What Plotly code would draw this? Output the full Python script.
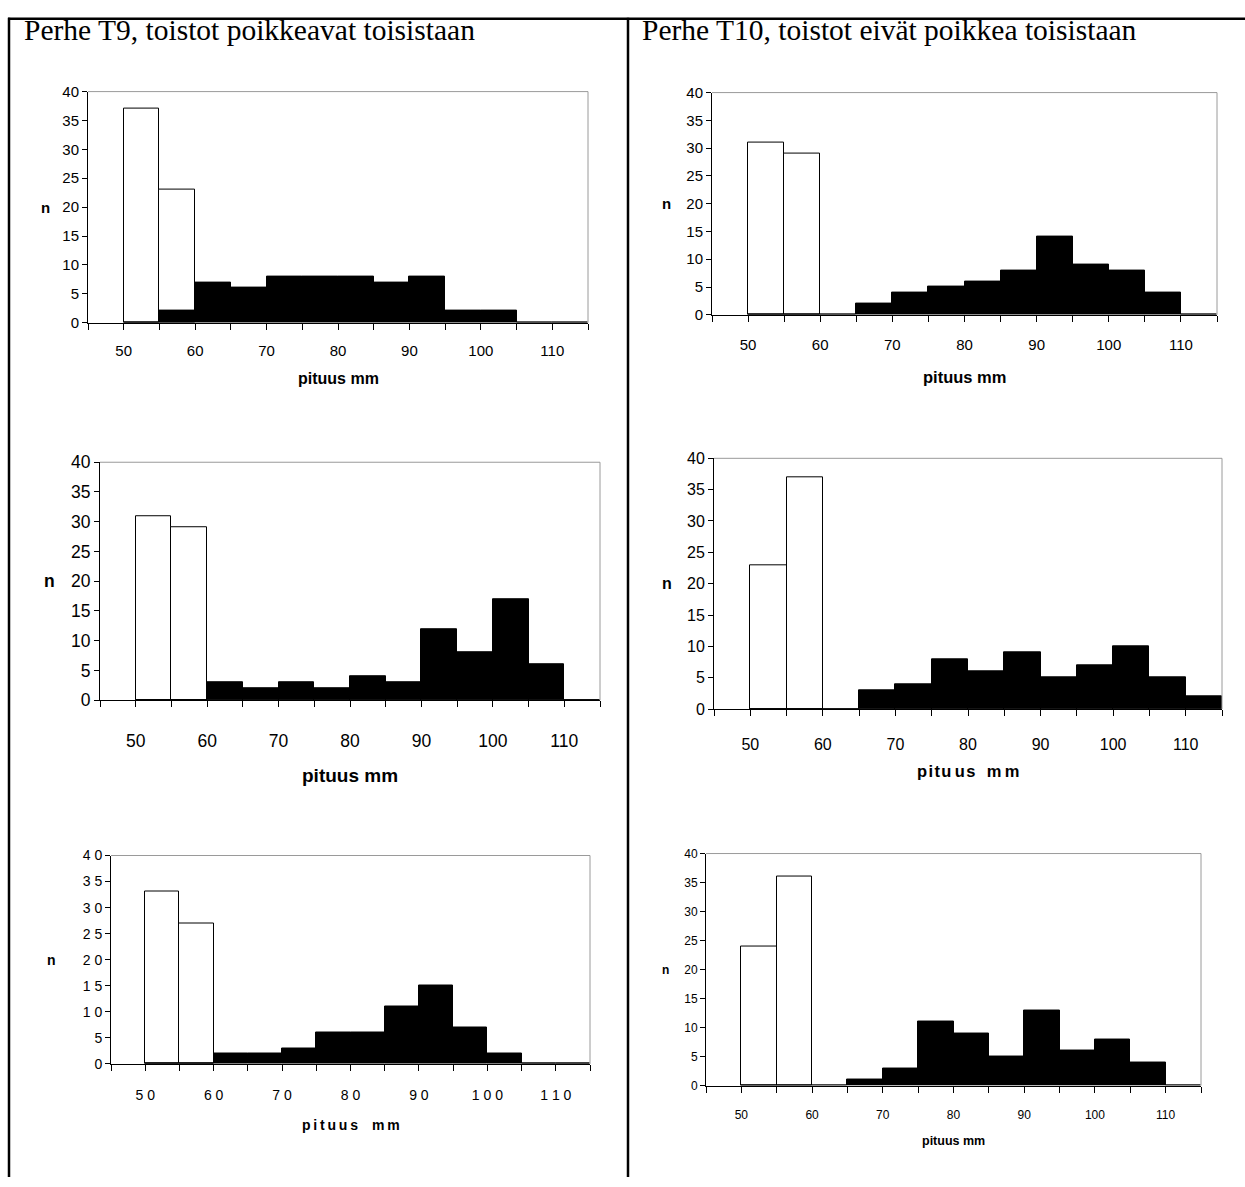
import plotly.graph_objects as go

# ---------------- data ----------------
bin_starts = [50, 55, 60, 65, 70, 75, 80, 85, 90, 95, 100, 105, 110]   # length classes (mm), width 5
white_bins = [50, 55]
x_tick_vals = [45, 50, 55, 60, 65, 70, 75, 80, 85, 90, 95, 100, 105, 110, 115]
x_tick_text = ["", "50", "", "60", "", "70", "", "80", "", "90", "", "100", "", "110", ""]
y_tick_vals = [0, 5, 10, 15, 20, 25, 30, 35, 40]

t9_r1_white = [37, 23]
t9_r1_black = [0, 2, 7, 6, 8, 8, 8, 7, 8, 2, 2, 0, 0]
t10_r1_white = [31, 29]
t10_r1_black = [0, 0, 0, 2, 4, 5, 6, 8, 14, 9, 8, 4, 0]
t9_r2_white = [31, 29]
t9_r2_black = [0, 0, 3, 2, 3, 2, 4, 3, 12, 8, 17, 6, 0]
t10_r2_white = [23, 37]
t10_r2_black = [0, 0, 0, 3, 4, 8, 6, 9, 5, 7, 10, 5, 2]
t9_r3_white = [33, 27]
t9_r3_black = [0, 0, 2, 2, 3, 6, 6, 11, 15, 7, 2, 0, 0]
t10_r3_white = [24, 36]
t10_r3_black = [0, 0, 0, 1, 3, 11, 9, 5, 13, 6, 8, 4, 0]

header_left = "Perhe T9, toistot poikkeavat toisistaan"
header_right = "Perhe T10, toistot eivät poikkea toisistaan"
x_title = "pituus mm"
y_title = "n"

# ---------------- layout (pixels) ----------------
W, H = 1245, 1187
FONT = "Liberation Sans, Arial, sans-serif"

panels = [
    dict(white=t9_r1_white, black=t9_r1_black, box=(88, 588, 83, 318), fs=15, tfs=16, lab_y=343, tit_y=375, n_x=45, style="plain"),
    dict(white=t10_r1_white, black=t10_r1_black, box=(712, 1217, 84, 310), fs=15, tfs=16.5, lab_y=337, tit_y=373, n_x=666, style="plain"),
    dict(white=t9_r2_white, black=t9_r2_black, box=(100, 600, 460, 702), fs=17.5, tfs=19, lab_y=739, tit_y=779, n_x=49, style="plain"),
    dict(white=t10_r2_white, black=t10_r2_black, box=(714, 1222, 456, 711), fs=16, tfs=16.5, lab_y=743, tit_y=774, n_x=667, style="title_spaced"),
    dict(white=t9_r3_white, black=t9_r3_black, box=(111, 590, 860, 1072), fs=14, tfs=14, lab_y=1100, tit_y=1134, n_x=51, style="spaced"),
    dict(white=t10_r3_white, black=t10_r3_black, box=(706, 1201, 858, 1094), fs=12, tfs=12.5, lab_y=1121, tit_y=1150, n_x=665, style="plain"),
]


def space_out(s, sep):
    return sep.join(list(s)) if s else s


fig = go.Figure()
shapes = []
annotations = []

for i, p in enumerate(panels, start=1):
    xa = "x" if i == 1 else f"x{i}"
    ya = "y" if i == 1 else f"y{i}"
    left, right, top, bottom = p["box"]
    dom_x = [left / W, right / W]
    dom_y = [1 - bottom / H, 1 - top / H]

    fig.add_trace(go.Bar(
        x=white_bins, y=p["white"], width=5, offset=0,
        marker=dict(color="white", line=dict(color="black", width=1)),
        xaxis=xa, yaxis=ya, showlegend=False, hoverinfo="skip"))
    fig.add_trace(go.Bar(
        x=bin_starts, y=p["black"], width=5, offset=0,
        marker=dict(color="black", line=dict(color="black", width=1)),
        xaxis=xa, yaxis=ya, showlegend=False, hoverinfo="skip"))

    if p["style"] == "spaced":
        xt = [space_out(t, " ") for t in x_tick_text]
        yt = [space_out(str(v), " ") for v in y_tick_vals]
        title_txt = "p\u2009i\u2009t\u2009u\u2009u\u2009s\u2002\u2002m\u2009m"
    elif p["style"] == "title_spaced":
        xt = x_tick_text
        yt = [str(v) for v in y_tick_vals]
        title_txt = "p\u200ai\u200at\u200au\u2009u\u200as\u2002\u2009m\u2009m"
    else:
        xt = x_tick_text
        yt = [str(v) for v in y_tick_vals]
        title_txt = x_title

    fs = p["fs"]
    ticklen = 6
    standoff = int(round(max(0, (p["lab_y"] - bottom) - ticklen - fs * 0.5 - 3)))

    key_x = "xaxis" if i == 1 else f"xaxis{i}"
    key_y = "yaxis" if i == 1 else f"yaxis{i}"
    fig.update_layout(**{
        key_x: dict(domain=dom_x, anchor=ya, range=[45, 115], tickmode="array",
                    tickvals=x_tick_vals, ticktext=xt, ticks="outside", ticklen=ticklen,
                    tickcolor="black", tickwidth=1, showline=True, linecolor="black",
                    linewidth=1, showgrid=False, zeroline=False,
                    ticklabelstandoff=standoff,
                    tickfont=dict(family=FONT, size=fs, color="black")),
        key_y: dict(domain=dom_y, anchor=xa, range=[0, 40], tickmode="array",
                    tickvals=y_tick_vals, ticktext=yt, ticks="outside", ticklen=5,
                    tickcolor="black", tickwidth=1, showline=True, linecolor="black",
                    linewidth=1, showgrid=False, zeroline=False,
                    tickfont=dict(family=FONT, size=fs, color="black")),
    })

    # grey plot-area frame (top and right)
    shapes.append(dict(type="line", xref=f"{xa} domain", yref=f"{ya} domain",
                       x0=0, x1=1, y0=1, y1=1, line=dict(color="#9a9a9a", width=1)))
    shapes.append(dict(type="line", xref=f"{xa} domain", yref=f"{ya} domain",
                       x0=1, x1=1, y0=0, y1=1, line=dict(color="#9a9a9a", width=1)))

    annotations.append(dict(text=f"<b>{title_txt}</b>", xref="paper", yref="paper",
                            x=(left + right) / 2 / W, y=1 - p["tit_y"] / H,
                            xanchor="center", yanchor="middle", showarrow=False,
                            font=dict(family=FONT, size=p["tfs"], color="black")))
    annotations.append(dict(text=f"<b>{y_title}</b>", xref="paper", yref=ya,
                            x=p["n_x"] / W, y=20, xanchor="center", yanchor="middle",
                            showarrow=False,
                            font=dict(family=FONT, size=fs, color="black")))

# table frame
shapes.append(dict(type="line", xref="paper", yref="paper", x0=8 / W, x1=1, y0=1 - 9 / H, y1=1 - 9 / H,
                   line=dict(color="black", width=2.5)))
shapes.append(dict(type="line", xref="paper", yref="paper", x0=9 / W, x1=9 / W, y0=0, y1=1 - 8 / H,
                   line=dict(color="black", width=2.5)))
shapes.append(dict(type="line", xref="paper", yref="paper", x0=628 / W, x1=628 / W, y0=0, y1=1 - 8 / H,
                   line=dict(color="black", width=2.5)))

SERIF = "Liberation Serif, Times New Roman, serif"
annotations.append(dict(text=header_left, xref="paper", yref="paper", x=22 / W, y=1 - 20 / H,
                        xanchor="left", yanchor="middle", showarrow=False,
                        font=dict(family=SERIF, size=29.5, color="black")))
annotations.append(dict(text=header_right, xref="paper", yref="paper", x=640 / W, y=1 - 20 / H,
                        xanchor="left", yanchor="middle", showarrow=False,
                        font=dict(family=SERIF, size=29.5, color="black")))

fig.update_layout(
    width=W, height=H, margin=dict(l=0, r=0, t=0, b=0),
    paper_bgcolor="white", plot_bgcolor="white",
    barmode="overlay", bargap=0,
    shapes=shapes, annotations=annotations, showlegend=False,
)

fig.write_html("out.html", config={"displayModeBar": False},
               post_script="document.body.style.margin='0px';document.body.style.overflow='hidden';")
